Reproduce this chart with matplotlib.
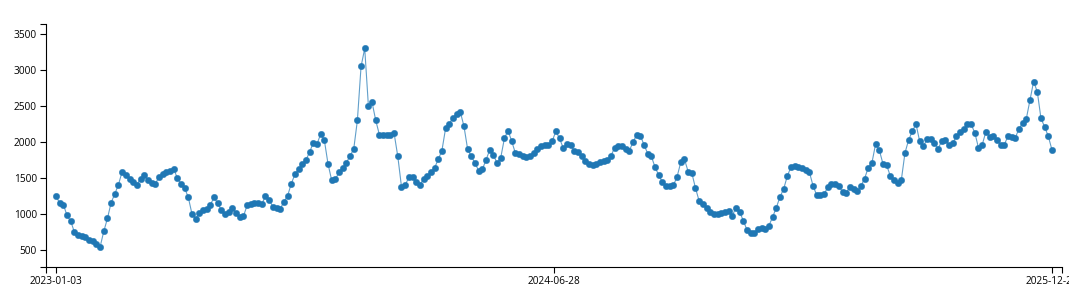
import pandas as pd
import matplotlib
matplotlib.use("Agg")
import matplotlib.pyplot as plt

# Series, one reading every 4 days from 2023-01-03 to 2025-12-22
start_date = "2023-01-03"
step = "4D"
values = [
    1250, 1150, 1130, 980, 900, 750, 705, 700, 680, 635,
    620, 590, 545, 760, 940, 1160, 1280, 1410, 1590, 1540,
    1490, 1450, 1410, 1490, 1540, 1470, 1430, 1420, 1510, 1550,
    1580, 1600, 1630, 1500, 1420, 1360, 1230, 1000, 935, 1010,
    1050, 1065, 1130, 1230, 1150, 1050, 1000, 1030, 1080, 1010,
    965, 970, 1120, 1140, 1150, 1150, 1140, 1250, 1200, 1100,
    1080, 1070, 1170, 1250, 1420, 1550, 1620, 1700, 1750, 1860,
    1990, 1970, 2110, 2030, 1700, 1470, 1480, 1580, 1640, 1710,
    1810, 1900, 2300, 3050, 3300, 2500, 2550, 2300, 2100, 2100,
    2100, 2100, 2120, 1800, 1380, 1400, 1510, 1510, 1450, 1410,
    1480, 1530, 1580, 1640, 1760, 1880, 2190, 2250, 2340, 2390,
    2420, 2220, 1900, 1800, 1710, 1600, 1620, 1750, 1890, 1820,
    1710, 1780, 2050, 2160, 2010, 1845, 1830, 1800, 1795, 1810,
    1850, 1900, 1940, 1960, 1960, 2010, 2150, 2050, 1920, 1975,
    1960, 1880, 1855, 1810, 1740, 1695, 1685, 1690, 1725, 1735,
    1750, 1810, 1920, 1950, 1940, 1900, 1880, 2000, 2100, 2090,
    1960, 1840, 1800, 1650, 1540, 1440, 1395, 1385, 1400, 1520,
    1720, 1760, 1590, 1570, 1360, 1180, 1140, 1090, 1030, 995,
    1005, 1020, 1030, 1040, 975, 1090, 1030, 910, 780, 730,
    740, 790, 810, 790, 840, 960, 1090, 1240, 1350, 1530,
    1655, 1670, 1660, 1640, 1615, 1580, 1390, 1260, 1260, 1280,
    1370, 1415, 1420, 1390, 1310, 1295, 1375, 1345, 1315, 1390,
    1490, 1645, 1710, 1970, 1890, 1700, 1680, 1530, 1470, 1435,
    1470, 1850, 2030, 2150, 2250, 2010, 1940, 2040, 2045, 1990,
    1910, 2010, 2030, 1960, 1990, 2080, 2140, 2180, 2250, 2245,
    2130, 1920, 1960, 2140, 2075, 2090, 2025, 1960, 1960, 2080,
    2070, 2060, 2180, 2265, 2320, 2580, 2840, 2700, 2330, 2210,
    2080, 1890,
]
dates = pd.date_range(start_date, periods=len(values), freq=step)
y_ticks = [500, 1000, 1500, 2000, 2500, 3000, 3500]

plt.rcParams['font.family'] = ['Open Sans', 'DejaVu Sans']

fig = plt.figure(figsize=(10.69, 2.94), dpi=100)
ax = fig.add_axes([46 / 1069, 27 / 294, 1016 / 1069, 243 / 294])

# thin connecting line, then solid dots on top
ax.plot(dates, values, color='#1f77b4', linewidth=0.8, alpha=0.7)
ax.plot(dates, values, linestyle='none', marker='o', markersize=4.6,
        markerfacecolor='#1f77b4', markeredgecolor='#1f77b4',
        markeredgewidth=0.3)

# Padding on both ends of the time axis, like the outer ticks of the original
pad = pd.Timedelta(days=10.9)
ax.set_xlim(dates[0] - pad, dates[-1] + pad)
ax.set_ylim(264, 3640)

mid = dates[0] + (dates[-1] - dates[0]) / 2
x_ticks = [dates[0], mid.normalize(), dates[-1]]
ax.set_xticks(x_ticks)
ax.set_xticklabels([d.strftime('%Y-%m-%d') for d in x_ticks])
ax.set_xticks([dates[0] - pad, dates[-1] + pad], minor=True)
ax.set_yticks(y_ticks)
ax.set_yticks([264, 3640], minor=True)

ax.tick_params(axis='both', which='both', length=4.5, width=0.8,
               labelsize=7.3, pad=2, colors='black')
ax.tick_params(axis='both', which='minor', labelbottom=False, labelleft=False)

for side in ['top', 'right']:
    ax.spines[side].set_visible(False)
for side in ['left', 'bottom']:
    ax.spines[side].set_linewidth(0.8)

fig.savefig('out.png', dpi=100)
